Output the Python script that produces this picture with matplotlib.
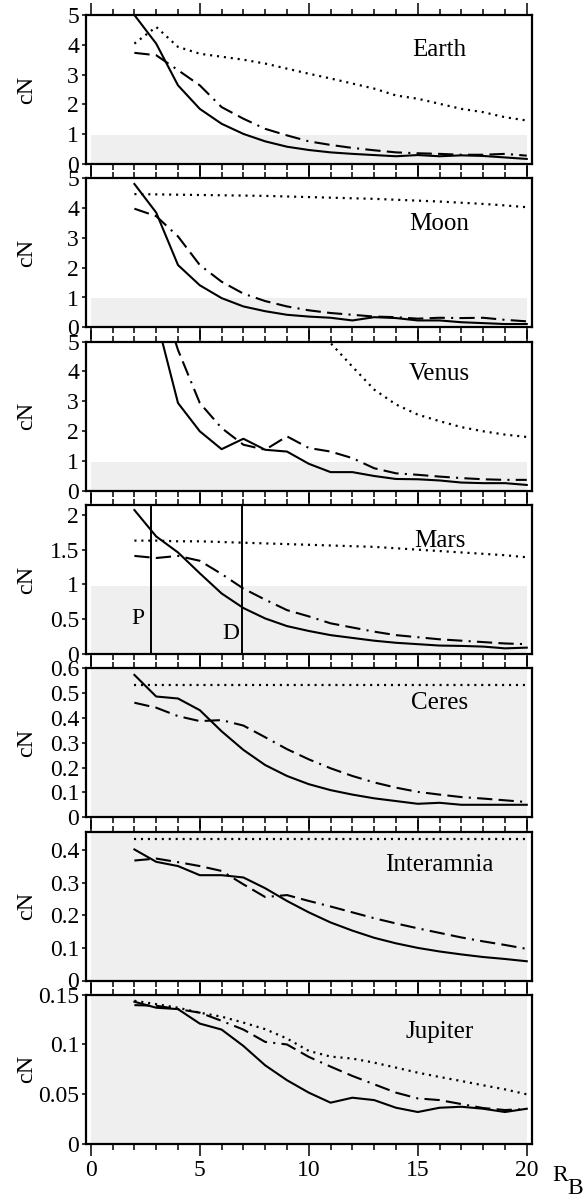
import numpy as np
import matplotlib
matplotlib.use("Agg")
import matplotlib.pyplot as plt

plt.rcParams['font.family'] = ['Liberation Serif', 'DejaVu Serif']
plt.rcParams['lines.scale_dashes'] = False

# ---------------- data ----------------
rb = [2, 3, 4, 5, 6, 7, 8, 9, 10, 11, 12, 13, 14, 15, 16, 17, 18, 19, 20]

earth_solid = [5.0, 4.04, 2.64, 1.85, 1.35, 1.01, 0.76, 0.58, 0.47, 0.39, 0.34, 0.30, 0.26, 0.30, 0.26, 0.29, 0.27, 0.22, 0.17]
earth_dash = [3.73, 3.65, 3.15, 2.64, 1.91, 1.52, 1.18, 0.96, 0.76, 0.64, 0.54, 0.46, 0.39, 0.36, 0.34, 0.31, 0.31, 0.34, 0.28]
earth_dot = [4.04, 4.60, 3.93, 3.70, 3.60, 3.50, 3.37, 3.20, 3.03, 2.87, 2.70, 2.53, 2.30, 2.19, 2.02, 1.85, 1.74, 1.57, 1.46]

moon_solid = [4.81, 3.85, 2.09, 1.41, 0.98, 0.70, 0.54, 0.42, 0.36, 0.32, 0.23, 0.34, 0.31, 0.23, 0.23, 0.17, 0.14, 0.11, 0.11]
moon_dash = [3.98, 3.73, 3.05, 2.09, 1.53, 1.13, 0.88, 0.70, 0.57, 0.48, 0.42, 0.36, 0.34, 0.29, 0.32, 0.31, 0.32, 0.25, 0.20]
moon_dot = [4.47, 4.46, 4.45, 4.44, 4.43, 4.42, 4.41, 4.39, 4.37, 4.35, 4.33, 4.31, 4.28, 4.25, 4.22, 4.18, 4.14, 4.09, 4.03]

venus_solid = [9.5, 5.8, 2.94, 1.99, 1.39, 1.74, 1.37, 1.31, 0.90, 0.62, 0.62, 0.49, 0.39, 0.38, 0.34, 0.27, 0.25, 0.25, 0.19]
venus_dash = [10.0, 7.0, 4.72, 2.94, 2.10, 1.54, 1.37, 1.82, 1.43, 1.31, 1.09, 0.75, 0.58, 0.53, 0.47, 0.42, 0.38, 0.36, 0.36]
venus_dot = [30.0, 20.0, 15.0, 12.0, 10.0, 8.5, 7.3, 6.4, 5.7, 4.95, 4.16, 3.39, 2.89, 2.55, 2.33, 2.13, 1.99, 1.88, 1.80]

mars_solid = [2.07, 1.69, 1.46, 1.16, 0.87, 0.66, 0.51, 0.40, 0.33, 0.27, 0.23, 0.19, 0.16, 0.14, 0.12, 0.115, 0.105, 0.08, 0.09]
mars_dash = [1.41, 1.38, 1.41, 1.34, 1.15, 0.94, 0.78, 0.63, 0.54, 0.44, 0.38, 0.32, 0.27, 0.24, 0.21, 0.19, 0.17, 0.15, 0.14]
mars_dot = [1.63, 1.63, 1.62, 1.62, 1.61, 1.60, 1.59, 1.58, 1.57, 1.56, 1.55, 1.54, 1.52, 1.50, 1.48, 1.46, 1.44, 1.42, 1.39]

ceres_solid = [0.573, 0.486, 0.478, 0.431, 0.346, 0.271, 0.21, 0.166, 0.133, 0.109, 0.091, 0.076, 0.065, 0.054, 0.058, 0.050, 0.050, 0.050, 0.050]
ceres_dash = [0.461, 0.441, 0.407, 0.387, 0.391, 0.369, 0.322, 0.274, 0.233, 0.197, 0.166, 0.140, 0.119, 0.102, 0.091, 0.081, 0.075, 0.068, 0.061]
ceres_dot = [0.532] * 19

inter_solid = [0.402, 0.364, 0.351, 0.323, 0.323, 0.316, 0.283, 0.244, 0.209, 0.178, 0.153, 0.131, 0.114, 0.100, 0.089, 0.080, 0.072, 0.066, 0.059]
inter_dash = [0.368, 0.374, 0.363, 0.351, 0.336, 0.295, 0.256, 0.262, 0.244, 0.227, 0.209, 0.191, 0.175, 0.160, 0.146, 0.132, 0.120, 0.109, 0.097]
inter_dot = [0.435] * 19

jup_solid = [0.143, 0.137, 0.1356, 0.121, 0.115, 0.0985, 0.079, 0.064, 0.0515, 0.0414, 0.0464, 0.044, 0.0363, 0.032, 0.0363, 0.0373, 0.0353, 0.032, 0.0353]
jup_dash = [0.1396, 0.139, 0.1356, 0.132, 0.1238, 0.115, 0.1026, 0.100, 0.0875, 0.0777, 0.0683, 0.0599, 0.0515, 0.0457, 0.044, 0.040, 0.036, 0.034, 0.035]
jup_dot = [0.144, 0.1406, 0.137, 0.132, 0.128, 0.122, 0.1154, 0.106, 0.0935, 0.0878, 0.0858, 0.0817, 0.0767, 0.0716, 0.0673, 0.0632, 0.0589, 0.0548, 0.0498]

names = ["Earth", "Moon", "Venus", "Mars", "Ceres", "Interamnia", "Jupiter"]
solids = [earth_solid, moon_solid, venus_solid, mars_solid, ceres_solid, inter_solid, jup_solid]
dashes = [earth_dash, moon_dash, venus_dash, mars_dash, ceres_dash, inter_dash, jup_dash]
dots = [earth_dot, moon_dot, venus_dot, mars_dot, ceres_dot, inter_dot, jup_dot]
ymaxs = [5, 5, 5, 2.144, 0.6, 0.457, 0.15]
yticks = [[0, 1, 2, 3, 4, 5], [0, 1, 2, 3, 4, 5], [0, 1, 2, 3, 4, 5],
          [0, 0.5, 1, 1.5, 2], [0, 0.1, 0.2, 0.3, 0.4, 0.5, 0.6],
          [0, 0.1, 0.2, 0.3, 0.4], [0, 0.05, 0.1, 0.15]]
ytick_labels = [["0", "1", "2", "3", "4", "5"], ["0", "1", "2", "3", "4", "5"], ["0", "1", "2", "3", "4", "5"],
                ["0", "0.5", "1", "1.5", "2"], ["0", "0.1", "0.2", "0.3", "0.4", "0.5", "0.6"],
                ["0", "0.1", "0.2", "0.3", "0.4"], ["0", "0.05", "0.1", "0.15"]]
label_y = [3.83, 3.48, 3.9, 1.63, 0.46, 0.353, 0.113]
xticks_major = [0, 5, 10, 15, 20]
xticks_minor = list(range(0, 21))
mars_lines = [2.78, 6.94]
mars_line_labels = ["P", "D"]
mars_label_pos = [(2.18, 0.51), (6.41, 0.30)]

# ---------------- figure ----------------
W, H = 586, 1198
fig = plt.figure(figsize=(W / 100, H / 100), dpi=100)

dashdot = (0, (11, 4.5, 11, 4.5, 1.5, 4.5))
dotted = (0, (1.5, 3.5))

for i, name in enumerate(names):
    top = 15 + i * 163.3
    hgt = 149
    ax = fig.add_axes([86 / W, 1 - (top + hgt) / H, 446 / W, hgt / H])
    ax.set_xlim(-0.22, 20.24)
    ax.set_ylim(0, ymaxs[i])
    ax.fill_between([0, 20], 0, 0.97, color='#efefef', lw=0, zorder=0)
    ax.plot(rb, solids[i], color='k', lw=1.5, ls='-', zorder=3)
    ax.plot(rb, dashes[i], color='k', lw=1.5, ls=dashdot, zorder=3)
    ax.plot(rb, dots[i], color='k', lw=1.6, ls=dotted, zorder=3)
    ax.text(16, label_y[i], name, ha='center', va='center', fontsize=18)
    if name == "Mars":
        for xv, lab, (lx, ly) in zip(mars_lines, mars_line_labels, mars_label_pos):
            ax.axvline(xv, color='k', lw=1.4, zorder=4)
            ax.text(lx, ly, lab, ha='center', va='center', fontsize=17)
    ax.set_yticks(yticks[i])
    ax.set_yticklabels(ytick_labels[i])
    ax.set_xticks(xticks_major)
    ax.set_xticks(xticks_minor, minor=True)
    ax.tick_params(axis='x', which='major', direction='out', length=8.6, width=1.1,
                   top=True, bottom=True, labelsize=17, pad=3)
    ax.tick_params(axis='x', which='minor', direction='out', length=4.3, width=1.1,
                   top=True, bottom=True)
    ax.tick_params(axis='y', which='major', direction='out', length=3, width=1.1,
                   left=True, right=False, labelsize=17, pad=2)
    if i < len(names) - 1:
        ax.tick_params(axis='x', labelbottom=False)
    for sp in ax.spines.values():
        sp.set_linewidth(1.6)
    fig.text(27 / W, 1 - (top + hgt / 2) / H, "cN", rotation=90, ha='center', va='center', fontsize=17.5)

fig.text(560 / W, 1 - 1181 / H, "R", ha='center', va='baseline', fontsize=17)
fig.text(575.5 / W, 1 - 1194 / H, "B", ha='center', va='baseline', fontsize=17)

fig.savefig("out.png", dpi=100)
